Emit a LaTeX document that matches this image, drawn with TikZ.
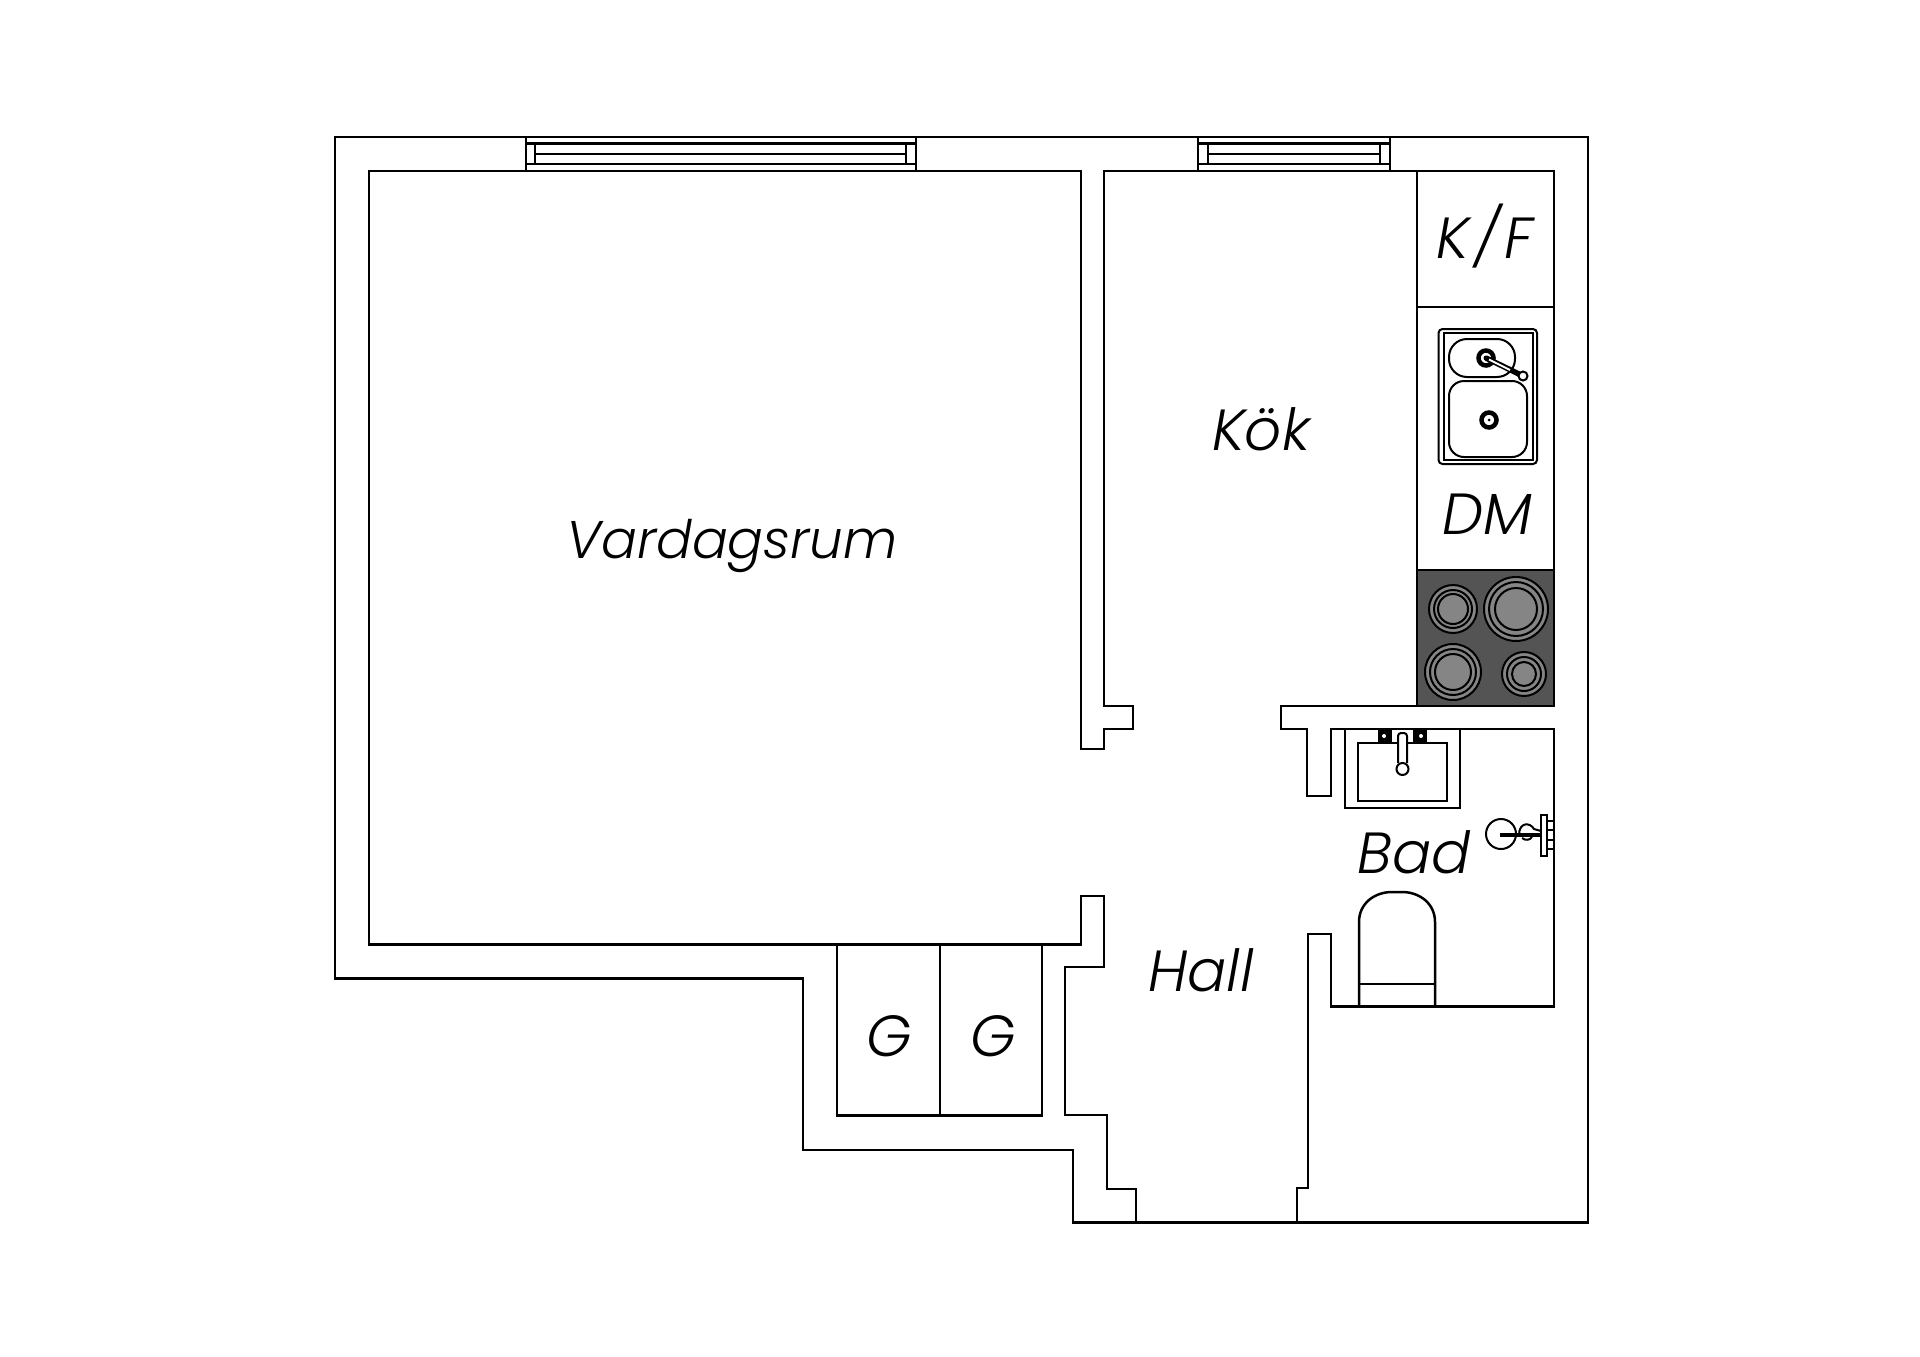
\documentclass[tikz,border=0pt]{standalone}
\usepackage{fontspec}
\setmainfont{Poppins Light}[ItalicFont={Poppins Light Italic}]
\tikzset{
    wall/.style={line width=2.5pt, line join=miter},
    fixture/.style={line width=2pt},
    room/.style={font=\itshape\fontsize{58}{60}\selectfont, inner sep=0pt, anchor=base},
}
\definecolor{hobdark}{gray}{.33}
\definecolor{hobring}{gray}{.52}

\begin{document}
\begin{tikzpicture}[x=1pt, y=-1pt]

    \useasboundingbox (0,0) rectangle (1920,1357);

    % hob goes first, the walls sit on top of it
    \fill[hobdark] (1417,570) rectangle (1554,706);
    \foreach \cx/\cy/\ra/\rb/\rc in {1453/609/24/19/15, 1516/609/32/27/21, 1453/672/28/23/18, 1524/674/22/17/12} {
        \draw[fixture, fill=hobring] (\cx,\cy) circle (\ra pt);
        \draw[fixture] (\cx,\cy) circle (\rb pt);
        \draw[fixture] (\cx,\cy) circle (\rc pt);
    }

    % outer wall
    \draw[wall] (335,137) -- (1588,137) -- (1588,1222.5) -- (1073,1222.5) -- (1073,1150)
        -- (803,1150) -- (803,978.5) -- (335,978.5) -- cycle;

    % inner wall, all the way round the flat
    \draw[wall] (1136,1222) -- (1136,1189) -- (1107,1189) -- (1107,1115) -- (1065,1115)
        -- (1065,967) -- (1104,967) -- (1104,896) -- (1081,896) -- (1081,944.5) -- (369,944.5)
        -- (369,171) -- (1081,171) -- (1081,749) -- (1104,749) -- (1104,729) -- (1133,729)
        -- (1133,706) -- (1104,706) -- (1104,171) -- (1554,171) -- (1554,706) -- (1281,706)
        -- (1281,729) -- (1307,729) -- (1307,796) -- (1331,796) -- (1331,729) -- (1554,729)
        -- (1554,1006.5) -- (1331,1006.5) -- (1331,934) -- (1308,934) -- (1308,1188)
        -- (1297,1188) -- (1297,1222);

    % kitchen units
    \draw[wall] (1417,171) -- (1417,706);
    \draw[wall] (1417,307) -- (1554,307);
    \draw[wall] (1417,570) -- (1554,570);

    % closets
    \draw[wall] (837,944) -- (837,1115.5) -- (1042,1115.5) -- (1042,944);
    \draw[wall] (940,944) -- (940,1115);

    % windows
    \foreach \xa/\xb/\xc/\xd in {526/535/906/916, 1198/1208/1380/1390} {
        \draw[wall] (\xa,137) -- (\xa,171);
        \draw[wall] (\xd,137) -- (\xd,171);
        \draw[wall] (\xa,143.5) -- (\xd,143.5);
        \draw[wall] (\xa,164) -- (\xd,164);
        \draw[wall] (\xb,143.5) -- (\xb,164);
        \draw[wall] (\xc,143.5) -- (\xc,164);
        \draw[wall] (\xb,154) -- (\xc,154);
    }

    % kitchen sink
    \draw[fixture, rounded corners=4pt] (1438.5,329) rectangle (1537,464);
    \draw[fixture] (1443.5,333) rectangle (1533,460);
    \draw[fixture, rounded corners=18pt] (1449,339) rectangle (1515,377);
    \draw[fixture, rounded corners=15pt] (1449,381) rectangle (1527,457);
    \draw[line width=4.5pt] (1489,420) circle (7.5pt);
    \fill (1489,420) circle (1.5pt);
    \draw[line width=4.5pt] (1486,358) circle (7.5pt);
    \fill (1486,358) circle (2.5pt);
    \draw[line width=5.5pt] (1486,358) -- (1523,376);
    \draw[line width=2pt, white] (1489,359.5) -- (1510,370);
    \draw[fixture, fill=white] (1523,376) circle (4.5pt);

    % wash basin
    \draw[wall] (1345,729) -- (1345,808) -- (1460,808) -- (1460,729);
    \draw[wall] (1358,743) rectangle (1447,801);
    \fill (1378,729) rectangle (1392,743);
    \fill (1413,729) rectangle (1427,743);
    \fill[white] (1384,736) circle (2pt);
    \fill[white] (1421,736) circle (2pt);
    \draw[fixture, fill=white, rounded corners=3pt] (1398,763) -- (1398,733) -- (1407,733) -- (1407,763);
    \draw[fixture, fill=white] (1402.5,769) circle (6pt);

    % shower
    \draw[fixture] (1501,834) circle (15pt);
    \draw[fixture] (1519,835) .. controls (1519,822) and (1530,822) .. (1534,829) -- (1541,831);
    \draw[fixture] (1522,838) .. controls (1526,841) and (1530,840) .. (1532,837);
    \draw[line width=3.5pt] (1500,835) -- (1545,835);
    \draw[fixture, fill=white] (1541,815) rectangle (1547,856);
    \draw[fixture] (1547,821) rectangle (1554,830);
    \draw[fixture] (1547,840) rectangle (1554,849);

    % toilet
    \draw[wall] (1359,1006) -- (1359,922) .. controls (1359,903) and (1375,892) .. (1392,892)
        -- (1402,892) .. controls (1419,892) and (1435,903) .. (1435,922) -- (1435,1006);
    \draw[wall] (1359,984) -- (1435,984);

    % rooms
    \path (732,558) node[room, font=\itshape\fontsize{53}{60}\selectfont] (vardagsrum) {Vardagsrum};
    \path (1261,450) node[room] (kok) {Kök};
    \path (1485,258) node[room] (kf) {K\kern5pt/\kern5pt F};
    \path (1487,534) node[room] (dm) {DM};
    \path (1414,873) node[room] (bad) {Bad};
    \path (1201,991) node[room] (hall) {Hall};
    \path (889,1056) node[room] (ga) {G};
    \path (993,1056) node[room] (gb) {G};

\end{tikzpicture}
\end{document}
